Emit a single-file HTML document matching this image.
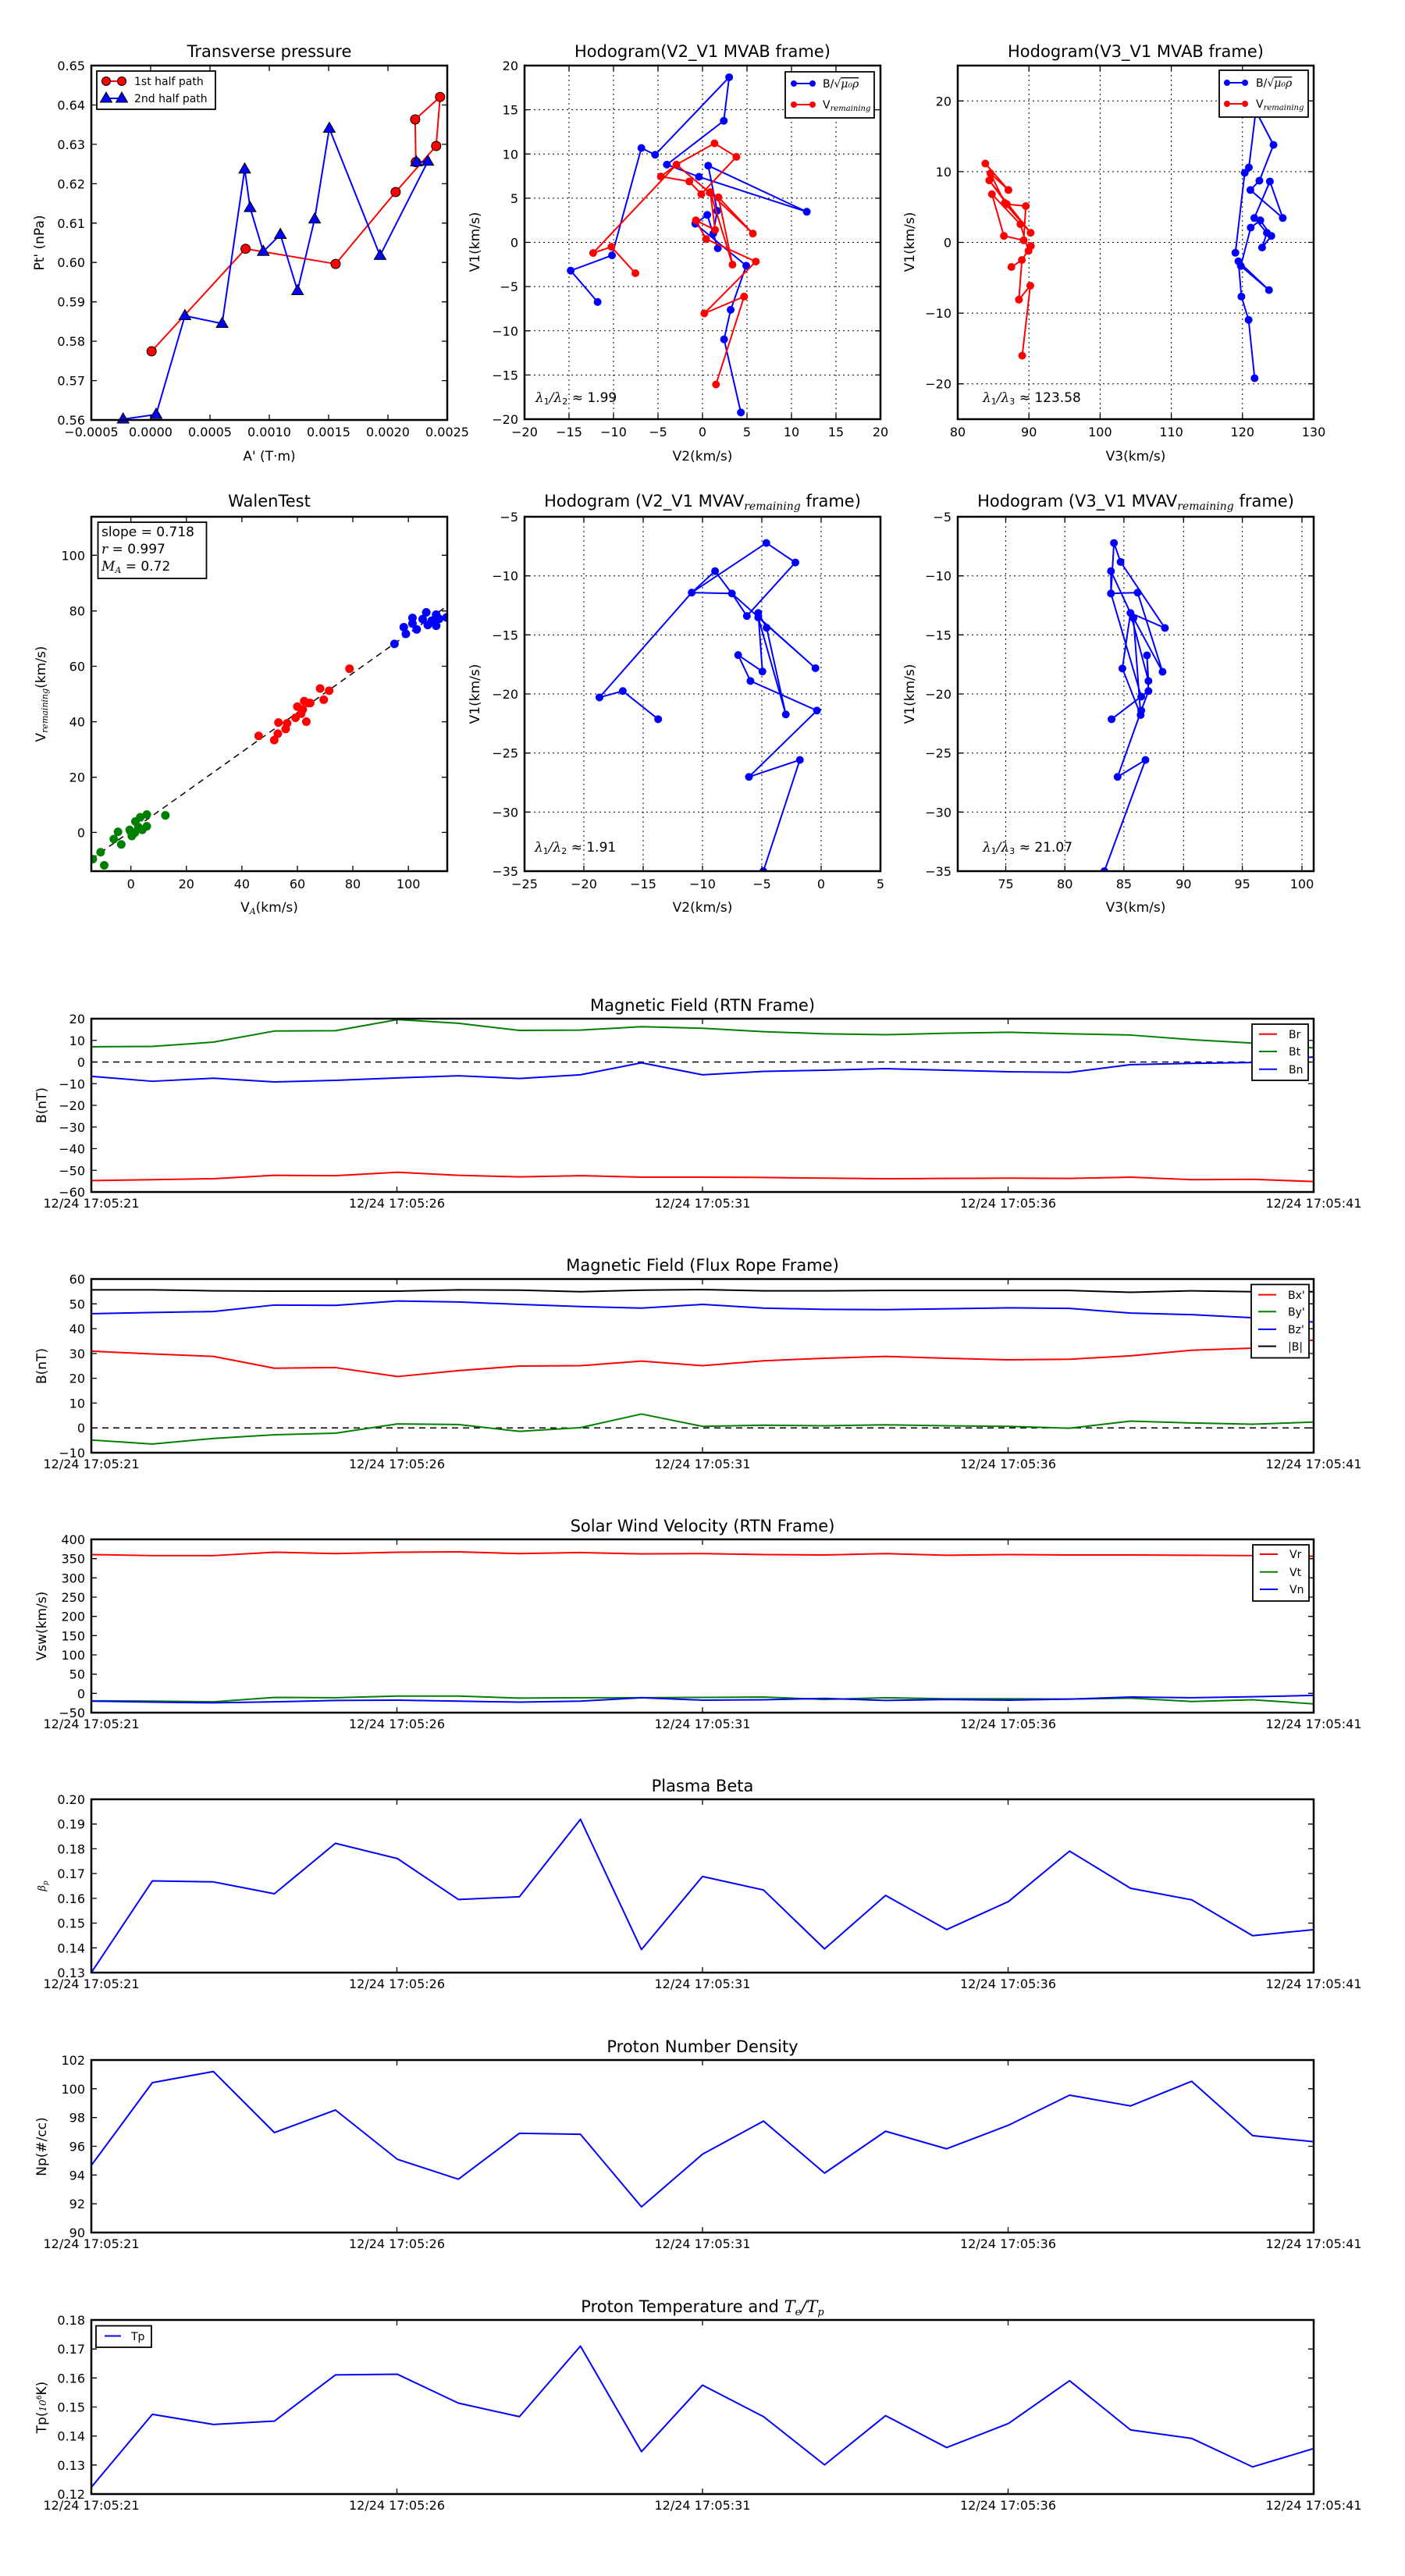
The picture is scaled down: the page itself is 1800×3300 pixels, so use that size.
<!DOCTYPE html>
<html><head><meta charset="utf-8"><style>
html,body{margin:0;padding:0;background:#fff}
svg{display:block}
text{font-family:"DejaVu Sans","Liberation Sans",sans-serif;fill:#000}
.t{font-size:16px}
.lab{font-size:17px}
.ttl{font-size:21px}
.lg{font-size:14px}
.fr{fill:none;stroke:#000;stroke-width:2.5}
.tk{fill:none;stroke:#000;stroke-width:1.3}
.gr{stroke:#000;stroke-width:1;stroke-dasharray:2,4;fill:none}
.ln{fill:none;stroke-width:2;vector-effect:non-scaling-stroke;stroke-linejoin:round}
.dt{fill:none;stroke-width:10;stroke-linecap:round;vector-effect:non-scaling-stroke}
.ds{fill:none;stroke:#000;stroke-width:1.5;stroke-dasharray:8,6}
.m{font-family:"DejaVu Serif","Liberation Serif",serif;font-style:italic}
</style></head><body>
<svg width="1800" height="3300" viewBox="0 0 1800 3300" xmlns="http://www.w3.org/2000/svg">
<defs><path id="tri" d="M0,-8 L7.5,5 L-7.5,5Z" fill="#0000ff" stroke="#000" stroke-width="1"/></defs>

<!-- ============ Transverse pressure ============ -->
<text class="ttl" x="345" y="73" text-anchor="middle">Transverse pressure</text>
<polyline points="194.2,450 314.6,318.7 430,338.1 506.9,246 558.8,187 563.8,124.2 531.9,153 532.7,207.6" fill="none" stroke="#ff0000" stroke-width="2"/>
<g fill="#ff0000" stroke="#000" stroke-width="1">
<circle cx="194.2" cy="450" r="6"/><circle cx="314.6" cy="318.7" r="6"/><circle cx="430" cy="338.1" r="6"/><circle cx="506.9" cy="246" r="6"/><circle cx="558.8" cy="187" r="6"/><circle cx="563.8" cy="124.2" r="6"/><circle cx="531.9" cy="153" r="6"/><circle cx="532.7" cy="207.6" r="6"/>
</g>
<polyline points="157.7,537 200,531 236.9,404.5 284.6,414.5 313.5,216.7 320.4,266.1 337.3,322.3 359.2,300.5 381.2,372.5 403.1,280.7 421.9,164.5 486.9,327.4 548.1,206.8 533.5,207.6" fill="none" stroke="#0000ff" stroke-width="2"/>
<use href="#tri" x="157.7" y="537"/><use href="#tri" x="200" y="531"/><use href="#tri" x="236.9" y="404.5"/><use href="#tri" x="284.6" y="414.5"/><use href="#tri" x="313.5" y="216.7"/><use href="#tri" x="320.4" y="266.1"/><use href="#tri" x="337.3" y="322.3"/><use href="#tri" x="359.2" y="300.5"/><use href="#tri" x="381.2" y="372.5"/><use href="#tri" x="403.1" y="280.7"/><use href="#tri" x="421.9" y="164.5"/><use href="#tri" x="486.9" y="327.4"/><use href="#tri" x="548.1" y="206.8"/><use href="#tri" x="533.5" y="207.6"/>
<rect x="124" y="91" width="152" height="49" fill="#fff" stroke="#000" stroke-width="1.8"/>
<line x1="136" y1="104" x2="156" y2="104" stroke="#ff0000" stroke-width="2"/><circle cx="136" cy="104" r="5.5" fill="#f00" stroke="#000"/><circle cx="156" cy="104" r="5.5" fill="#f00" stroke="#000"/>
<line x1="136" y1="126" x2="156" y2="126" stroke="#0000ff" stroke-width="2"/><use href="#tri" x="136" y="126"/><use href="#tri" x="156" y="126"/>
<text class="lg" x="172" y="109">1st half path</text><text class="lg" x="172" y="131">2nd half path</text>
<rect class="fr" x="117" y="84" width="456" height="454"/>
<path class="tk" d="M117,487.6h7M117,437.1h7M117,386.7h7M117,336.2h7M117,285.8h7M117,235.4h7M117,184.9h7M117,134.5h7M573,487.6h-7M573,437.1h-7M573,386.7h-7M573,336.2h-7M573,285.8h-7M573,235.4h-7M573,184.9h-7M573,134.5h-7M193,538v-7M269,538v-7M345,538v-7M421,538v-7M497,538v-7M193,84v7M269,84v7M345,84v7M421,84v7M497,84v7"/>
<g class="t" text-anchor="end"><text x="109" y="544">0.56</text><text x="109" y="493.6">0.57</text><text x="109" y="443.1">0.58</text><text x="109" y="392.7">0.59</text><text x="109" y="342.2">0.60</text><text x="109" y="291.8">0.61</text><text x="109" y="241.4">0.62</text><text x="109" y="190.9">0.63</text><text x="109" y="140.5">0.64</text><text x="109" y="90">0.65</text></g>
<g class="t" text-anchor="middle"><text x="117" y="559">−0.0005</text><text x="193" y="559">0.0000</text><text x="269" y="559">0.0005</text><text x="345" y="559">0.0010</text><text x="421" y="559">0.0015</text><text x="497" y="559">0.0020</text><text x="573" y="559">0.0025</text></g>
<text class="lab" x="345" y="590" text-anchor="middle">A' (T·m)</text>
<text class="lab" x="56" y="311" text-anchor="middle" transform="rotate(-90 56 311)">Pt' (nPa)</text>

<!-- ============ Hodogram V2_V1 MVAB ============ -->
<text class="ttl" x="900" y="73" text-anchor="middle">Hodogram(V2_V1 MVAB frame)</text>
<path class="gr" d="M729,84V537M786,84V537M843,84V537M900,84V537M957,84V537M1014,84V537M1071,84V537M672,140.6H1128M672,197.3H1128M672,253.9H1128M672,310.5H1128M672,367.1H1128M672,423.8H1128M672,480.4H1128"/>
<svg x="672" y="84" width="456" height="453" viewBox="190 130 1188 1364" preserveAspectRatio="none">
<polyline class="ln" stroke="#0000ff" points="434,1042 344,921 482,862 580,448 626,474 873,175 855,343 665,512 772,559 1132,694 803,516 833,690 820,778 835,835 800,706 760,740 930,902 878,1072 856,1186 912,1468"/>
<path class="dt" stroke="#0000ff" d="M434 1042l0 0M344 921l0 0M482 862l0 0M580 448l0 0M626 474l0 0M873 175l0 0M855 343l0 0M665 512l0 0M772 559l0 0M1132 694l0 0M803 516l0 0M833 690l0 0M820 778l0 0M835 835l0 0M800 706l0 0M760 740l0 0M930 902l0 0M878 1072l0 0M856 1186l0 0M912 1468l0 0"/>
<polyline class="ln" stroke="#ff0000" points="560,931 480,829 419,853 697,512 824,430 897,482 780,626 740,577 645,558 697,512 808,620 952,778 837,638 884,898 810,618 826,764 762,727 796,799 962,886 790,1086 923,1021 829,1360"/>
<path class="dt" stroke="#ff0000" d="M560 931l0 0M480 829l0 0M419 853l0 0M697 512l0 0M824 430l0 0M897 482l0 0M780 626l0 0M740 577l0 0M645 558l0 0M808 620l0 0M952 778l0 0M837 638l0 0M884 898l0 0M810 618l0 0M826 764l0 0M762 727l0 0M796 799l0 0M962 886l0 0M790 1086l0 0M923 1021l0 0M829 1360l0 0"/>
</svg>
<rect x="1006" y="92" width="114" height="59" fill="#fff" stroke="#000" stroke-width="1.8"/>
<line x1="1017" y1="107" x2="1041" y2="107" stroke="#00f" stroke-width="2"/><circle cx="1017" cy="107" r="4" fill="#00f"/><circle cx="1041" cy="107" r="4" fill="#00f"/>
<line x1="1017" y1="134" x2="1041" y2="134" stroke="#f00" stroke-width="2"/><circle cx="1017" cy="134" r="4" fill="#f00"/><circle cx="1041" cy="134" r="4" fill="#f00"/>
<text class="lg" x="1054" y="112">B/√<tspan class="m" text-decoration="overline">μ₀ρ</tspan></text>
<text class="lg" x="1054" y="139">V<tspan class="m" font-size="10" dy="3">remaining</tspan></text>
<text class="lab" x="686" y="515"><tspan class="m">λ</tspan><tspan font-size="11" dy="3">1</tspan><tspan class="m" dy="-3">/λ</tspan><tspan font-size="11" dy="3">2</tspan><tspan dy="-3"> ≈ 1.99</tspan></text>
<rect class="fr" x="672" y="84" width="456" height="453"/>
<path class="tk" d="M672,140.6h7M672,197.3h7M672,253.9h7M672,310.5h7M672,367.1h7M672,423.8h7M672,480.4h7M1128,140.6h-7M1128,197.3h-7M1128,253.9h-7M1128,310.5h-7M1128,367.1h-7M1128,423.8h-7M1128,480.4h-7M729,537v-7M786,537v-7M843,537v-7M900,537v-7M957,537v-7M1014,537v-7M1071,537v-7M729,84v7M786,84v7M843,84v7M900,84v7M957,84v7M1014,84v7M1071,84v7"/>
<g class="t" text-anchor="end"><text x="664" y="90">20</text><text x="664" y="146.6">15</text><text x="664" y="203.3">10</text><text x="664" y="259.9">5</text><text x="664" y="316.5">0</text><text x="664" y="373.1">−5</text><text x="664" y="429.8">−10</text><text x="664" y="486.4">−15</text><text x="664" y="543">−20</text></g>
<g class="t" text-anchor="middle"><text x="672" y="559">−20</text><text x="729" y="559">−15</text><text x="786" y="559">−10</text><text x="843" y="559">−5</text><text x="900" y="559">0</text><text x="957" y="559">5</text><text x="1014" y="559">10</text><text x="1071" y="559">15</text><text x="1128" y="559">20</text></g>
<text class="lab" x="900" y="590" text-anchor="middle">V2(km/s)</text>
<text class="lab" x="614" y="310" text-anchor="middle" transform="rotate(-90 614 310)">V1(km/s)</text>

<!-- ============ Hodogram V3_V1 MVAB ============ -->
<text class="ttl" x="1455" y="73" text-anchor="middle">Hodogram(V3_V1 MVAB frame)</text>
<path class="gr" d="M1318.2,84V537M1409.4,84V537M1500.6,84V537M1591.8,84V537M1227,129.3H1683M1227,219.9H1683M1227,310.5H1683M1227,401.1H1683M1227,491.7H1683"/>
<svg x="1227" y="84" width="456" height="453" viewBox="76 130 1187 1364" preserveAspectRatio="none">
<polyline class="ln" stroke="#0000ff" points="1066,1336 1046,1111 1022,1021 1012,885 1114,996 1020,903 1053,755 1085,727 1122,787 1091,832 1107,775 1065,718 1117,577 1160,718 1052,610 1082,574 1129,436 1070,305 1047,523 1033,544 1002,852"/>
<path class="dt" stroke="#0000ff" d="M1066 1336l0 0M1046 1111l0 0M1022 1021l0 0M1012 885l0 0M1114 996l0 0M1020 903l0 0M1053 755l0 0M1085 727l0 0M1122 787l0 0M1091 832l0 0M1107 775l0 0M1065 718l0 0M1117 577l0 0M1160 718l0 0M1052 610l0 0M1082 574l0 0M1129 436l0 0M1070 305l0 0M1047 523l0 0M1033 544l0 0M1002 852l0 0"/>
<polyline class="ln" stroke="#ff0000" points="168,508 245,610 185,546 233,660 319,775 181,573 240,665 303,672 296,804 230,787 190,626 285,742 312,845 320,826 290,880 255,907 290,880 280,1033 318,979 291,1249"/>
<path class="dt" stroke="#ff0000" d="M168 508l0 0M245 610l0 0M185 546l0 0M233 660l0 0M319 775l0 0M181 573l0 0M240 665l0 0M303 672l0 0M296 804l0 0M230 787l0 0M190 626l0 0M285 742l0 0M312 845l0 0M320 826l0 0M290 880l0 0M255 907l0 0M280 1033l0 0M318 979l0 0M291 1249l0 0"/>
</svg>
<rect x="1562" y="90" width="114" height="60" fill="#fff" stroke="#000" stroke-width="1.8"/>
<line x1="1572" y1="106" x2="1595" y2="106" stroke="#00f" stroke-width="2"/><circle cx="1572" cy="106" r="4" fill="#00f"/><circle cx="1595" cy="106" r="4" fill="#00f"/>
<line x1="1572" y1="133" x2="1595" y2="133" stroke="#f00" stroke-width="2"/><circle cx="1572" cy="133" r="4" fill="#f00"/><circle cx="1595" cy="133" r="4" fill="#f00"/>
<text class="lg" x="1609" y="111">B/√<tspan class="m" text-decoration="overline">μ₀ρ</tspan></text>
<text class="lg" x="1609" y="138">V<tspan class="m" font-size="10" dy="3">remaining</tspan></text>
<text class="lab" x="1259" y="515"><tspan class="m">λ</tspan><tspan font-size="11" dy="3">1</tspan><tspan class="m" dy="-3">/λ</tspan><tspan font-size="11" dy="3">3</tspan><tspan dy="-3"> ≈ 123.58</tspan></text>
<rect class="fr" x="1227" y="84" width="456" height="453"/>
<path class="tk" d="M1227,129.3h7M1227,219.9h7M1227,310.5h7M1227,401.1h7M1227,491.7h7M1683,129.3h-7M1683,219.9h-7M1683,310.5h-7M1683,401.1h-7M1683,491.7h-7M1318.2,537v-7M1409.4,537v-7M1500.6,537v-7M1591.8,537v-7M1318.2,84v7M1409.4,84v7M1500.6,84v7M1591.8,84v7"/>
<g class="t" text-anchor="end"><text x="1219" y="135.3">20</text><text x="1219" y="225.9">10</text><text x="1219" y="316.5">0</text><text x="1219" y="407.1">−10</text><text x="1219" y="497.7">−20</text></g>
<g class="t" text-anchor="middle"><text x="1227" y="559">80</text><text x="1318.2" y="559">90</text><text x="1409.4" y="559">100</text><text x="1500.6" y="559">110</text><text x="1591.8" y="559">120</text><text x="1683" y="559">130</text></g>
<text class="lab" x="1455" y="590" text-anchor="middle">V3(km/s)</text>
<text class="lab" x="1171" y="310" text-anchor="middle" transform="rotate(-90 1171 310)">V1(km/s)</text>

<!-- ============ WalenTest ============ -->
<text class="ttl" x="345" y="649" text-anchor="middle">WalenTest</text>
<line class="ds" x1="117" y1="1100.6" x2="573" y2="776.3"/>
<svg x="117" y="662" width="456" height="454" viewBox="305 117 1187 1271" preserveAspectRatio="none">
<path class="dt" stroke="#008000" style="stroke-width:11" d="M310 1345l0 0M336 1320l0 0M348 1367l0 0M380 1273l0 0M394 1247l0 0M405 1292l0 0M433 1240l0 0M440 1262l0 0M450 1250l0 0M452 1210l0 0M462 1230l0 0M468 1195l0 0M475 1240l0 0M490 1227l0 0M490 1185l0 0M552 1188l0 0"/>
<path class="dt" stroke="#ff0000" style="stroke-width:11" d="M863 903l0 0M915 918l0 0M927 895l0 0M929 855l0 0M953 878l0 0M958 858l0 0M986 838l0 0M992 798l0 0M1005 823l0 0M1010 808l0 0M1015 778l0 0M1022 852l0 0M1030 785l0 0M1035 785l0 0M1068 733l0 0M1080 773l0 0M1098 741l0 0M1166 662l0 0"/>
<path class="dt" stroke="#0000ff" style="stroke-width:11" d="M1316 573l0 0M1347 513l0 0M1354 537l0 0M1376 480l0 0M1376 500l0 0M1390 521l0 0M1410 484l0 0M1422 460l0 0M1427 505l0 0M1440 490l0 0M1455 468l0 0M1455 508l0 0M1465 483l0 0M1490 478l0 0"/>
</svg>
<rect x="125.5" y="669" width="139" height="72" fill="#fff" stroke="#000" stroke-width="1.8"/>
<text class="lab" x="130" y="687">slope = 0.718</text>
<text class="lab" x="130" y="709"><tspan class="m">r</tspan> = 0.997</text>
<text class="lab" x="130" y="731"><tspan class="m">M</tspan><tspan class="m" font-size="11" dy="3">A</tspan><tspan dy="-3"> = 0.72</tspan></text>
<rect class="fr" x="117" y="662" width="456" height="454"/>
<path class="tk" d="M117,1066.4h7M117,995.7h7M117,924.6h7M117,853.5h7M117,782.7h7M117,711.3h7M573,1066.4h-7M573,995.7h-7M573,924.6h-7M573,853.5h-7M573,782.7h-7M573,711.3h-7M167.7,1116v-7M238.8,1116v-7M309.9,1116v-7M381,1116v-7M452,1116v-7M523.2,1116v-7M167.7,662v7M238.8,662v7M309.9,662v7M381,662v7M452,662v7M523.2,662v7"/>
<g class="t" text-anchor="end"><text x="109" y="1072.4">0</text><text x="109" y="1001.7">20</text><text x="109" y="930.6">40</text><text x="109" y="859.5">60</text><text x="109" y="788.7">80</text><text x="109" y="717.3">100</text></g>
<g class="t" text-anchor="middle"><text x="167.7" y="1138">0</text><text x="238.8" y="1138">20</text><text x="309.9" y="1138">40</text><text x="381" y="1138">60</text><text x="452" y="1138">80</text><text x="523.2" y="1138">100</text></g>
<text class="lab" x="345" y="1168" text-anchor="middle">V<tspan class="m" font-size="11" dy="3">A</tspan><tspan dy="-3">(km/s)</tspan></text>
<text class="lab" x="58" y="889" text-anchor="middle" transform="rotate(-90 58 889)">V<tspan class="m" font-size="11" dy="3">remaining</tspan><tspan dy="-3">(km/s)</tspan></text>

<!-- ============ Hodogram V2_V1 MVAV ============ -->
<text class="ttl" x="900" y="649" text-anchor="middle">Hodogram (V2_V1 MVAV<tspan class="m" font-size="14" dy="4">remaining</tspan><tspan dy="-4"> frame)</tspan></text>
<path class="gr" d="M748,662V1116M824,662V1116M900,662V1116M976,662V1116M1052,662V1116M672,737.7H1128M672,813.3H1128M672,889H1128M672,964.7H1128M672,1040.3H1128"/>
<svg x="672" y="662" width="456" height="454" viewBox="190 117 1188 1271" preserveAspectRatio="none">
<polyline class="ln" stroke="#0000ff" points="636,843 518,742 440,765 748,389 997,211 1094,281 932,473 882,392 826,312 748,389 882,392 1161,660 970,478 1062,826 998,515 970,462 984,672 903,613 944,706 1166,812 939,1050 1109,989 987,1388"/>
<path class="dt" stroke="#0000ff" d="M636 843l0 0M518 742l0 0M440 765l0 0M748 389l0 0M997 211l0 0M1094 281l0 0M932 473l0 0M882 392l0 0M826 312l0 0M1161 660l0 0M970 478l0 0M1062 826l0 0M998 515l0 0M970 462l0 0M984 672l0 0M903 613l0 0M944 706l0 0M1166 812l0 0M939 1050l0 0M1109 989l0 0M987 1388l0 0"/>
</svg>
<text class="lab" x="685" y="1091"><tspan class="m">λ</tspan><tspan font-size="11" dy="3">1</tspan><tspan class="m" dy="-3">/λ</tspan><tspan font-size="11" dy="3">2</tspan><tspan dy="-3"> ≈ 1.91</tspan></text>
<rect class="fr" x="672" y="662" width="456" height="454"/>
<path class="tk" d="M672,737.7h7M672,813.3h7M672,889h7M672,964.7h7M672,1040.3h7M1128,737.7h-7M1128,813.3h-7M1128,889h-7M1128,964.7h-7M1128,1040.3h-7M748,1116v-7M824,1116v-7M900,1116v-7M976,1116v-7M1052,1116v-7M748,662v7M824,662v7M900,662v7M976,662v7M1052,662v7"/>
<g class="t" text-anchor="end"><text x="664" y="668">−5</text><text x="664" y="743.7">−10</text><text x="664" y="819.3">−15</text><text x="664" y="895">−20</text><text x="664" y="970.7">−25</text><text x="664" y="1046.3">−30</text><text x="664" y="1122">−35</text></g>
<g class="t" text-anchor="middle"><text x="672" y="1138">−25</text><text x="748" y="1138">−20</text><text x="824" y="1138">−15</text><text x="900" y="1138">−10</text><text x="976" y="1138">−5</text><text x="1052" y="1138">0</text><text x="1128" y="1138">5</text></g>
<text class="lab" x="900" y="1168" text-anchor="middle">V2(km/s)</text>
<text class="lab" x="614" y="889" text-anchor="middle" transform="rotate(-90 614 889)">V1(km/s)</text>

<!-- ============ Hodogram V3_V1 MVAV ============ -->
<text class="ttl" x="1455" y="649" text-anchor="middle">Hodogram (V3_V1 MVAV<tspan class="m" font-size="14" dy="4">remaining</tspan><tspan dy="-4"> frame)</tspan></text>
<path class="gr" d="M1288.5,662V1116M1364.2,662V1116M1439.9,662V1116M1516.3,662V1116M1591.6,662V1116M1668,662V1116M1227,737.7H1683M1227,813.3H1683M1227,889H1683M1227,964.7H1683M1227,1040.3H1683"/>
<svg x="1227" y="662" width="456" height="454" viewBox="76 117 1187 1271" preserveAspectRatio="none">
<polyline class="ln" stroke="#0000ff" points="589,843 712,742 688,762 587,392 597,211 619,279 767,516 652,462 587,312 587,392 676,389 759,673 662,480 686,828 625,661 652,462 712,706 707,614 712,742 688,812 609,1050 702,989 565,1388"/>
<path class="dt" stroke="#0000ff" d="M589 843l0 0M712 742l0 0M688 762l0 0M587 392l0 0M597 211l0 0M619 279l0 0M767 516l0 0M652 462l0 0M587 312l0 0M676 389l0 0M759 673l0 0M662 480l0 0M686 828l0 0M625 661l0 0M712 706l0 0M707 614l0 0M688 812l0 0M609 1050l0 0M702 989l0 0M565 1388l0 0"/>
</svg>
<text class="lab" x="1259" y="1091"><tspan class="m">λ</tspan><tspan font-size="11" dy="3">1</tspan><tspan class="m" dy="-3">/λ</tspan><tspan font-size="11" dy="3">3</tspan><tspan dy="-3"> ≈ 21.07</tspan></text>
<rect class="fr" x="1227" y="662" width="456" height="454"/>
<path class="tk" d="M1227,737.7h7M1227,813.3h7M1227,889h7M1227,964.7h7M1227,1040.3h7M1683,737.7h-7M1683,813.3h-7M1683,889h-7M1683,964.7h-7M1683,1040.3h-7M1288.5,1116v-7M1364.2,1116v-7M1439.9,1116v-7M1516.3,1116v-7M1591.6,1116v-7M1668,1116v-7M1288.5,662v7M1364.2,662v7M1439.9,662v7M1516.3,662v7M1591.6,662v7M1668,662v7"/>
<g class="t" text-anchor="end"><text x="1219" y="668">−5</text><text x="1219" y="743.7">−10</text><text x="1219" y="819.3">−15</text><text x="1219" y="895">−20</text><text x="1219" y="970.7">−25</text><text x="1219" y="1046.3">−30</text><text x="1219" y="1122">−35</text></g>
<g class="t" text-anchor="middle"><text x="1288.5" y="1138">75</text><text x="1364.2" y="1138">80</text><text x="1439.9" y="1138">85</text><text x="1516.3" y="1138">90</text><text x="1591.6" y="1138">95</text><text x="1668" y="1138">100</text></g>
<text class="lab" x="1455" y="1168" text-anchor="middle">V3(km/s)</text>
<text class="lab" x="1171" y="889" text-anchor="middle" transform="rotate(-90 1171 889)">V1(km/s)</text>

<!-- ============ Magnetic Field RTN ============ -->
<text class="ttl" x="900" y="1295" text-anchor="middle">Magnetic Field (RTN Frame)</text>
<line class="ds" x1="117" y1="1360.5" x2="1683" y2="1360.5"/>
<svg x="117" y="1305" width="1566" height="222" viewBox="103 113 1362 562" preserveAspectRatio="none">
<polyline class="ln" stroke="#ff0000" points="103,638 171,635 239,632 307,621 375,622 444,611 512,621 580,626 648,622 716,627 784,627 852,628 920,630 988,632 1056,631 1125,630 1193,631 1261,627 1329,635 1397,634 1465,641"/>
<polyline class="ln" stroke="#008000" points="103,204 171,203 239,189 307,153 375,152 444,116 512,128 580,151 648,150 716,139 784,144 852,155 920,162 988,165 1056,160 1125,157 1193,162 1261,166 1329,181 1397,192 1465,208"/>
<polyline class="ln" stroke="#0000ff" points="103,300 171,316 239,306 307,318 375,313 444,305 512,298 580,307 648,295 716,256 784,295 852,284 920,280 988,275 1056,280 1125,285 1193,287 1261,262 1329,258 1397,255 1465,237"/>
</svg>
<rect x="1604" y="1312" width="72" height="72" fill="#fff" stroke="#000" stroke-width="1.8"/>
<line x1="1613" y1="1324.7" x2="1636" y2="1324.7" stroke="#f00" stroke-width="2"/><line x1="1613" y1="1347" x2="1636" y2="1347" stroke="#008000" stroke-width="2"/><line x1="1613" y1="1369.7" x2="1636" y2="1369.7" stroke="#00f" stroke-width="2"/>
<text class="lg" x="1651" y="1330">Br</text><text class="lg" x="1651" y="1352">Bt</text><text class="lg" x="1651" y="1375">Bn</text>
<rect class="fr" x="117" y="1305" width="1566" height="222"/>
<path class="tk" d="M117,1332.75h7M117,1360.5h7M117,1388.25h7M117,1416h7M117,1443.75h7M117,1471.5h7M117,1499.25h7M1683,1332.75h-7M1683,1360.5h-7M1683,1388.25h-7M1683,1416h-7M1683,1443.75h-7M1683,1471.5h-7M1683,1499.25h-7M508.5,1527v-7M900,1527v-7M1291.5,1527v-7M508.5,1305v7M900,1305v7M1291.5,1305v7"/>
<g class="t" text-anchor="end"><text x="109" y="1311">20</text><text x="109" y="1338.75">10</text><text x="109" y="1366.5">0</text><text x="109" y="1394.25">−10</text><text x="109" y="1422">−20</text><text x="109" y="1449.75">−30</text><text x="109" y="1477.5">−40</text><text x="109" y="1505.25">−50</text><text x="109" y="1533">−60</text></g>
<g class="t" text-anchor="middle"><text x="117" y="1547">12/24 17:05:21</text><text x="508.5" y="1547">12/24 17:05:26</text><text x="900" y="1547">12/24 17:05:31</text><text x="1291.5" y="1547">12/24 17:05:36</text><text x="1683" y="1547">12/24 17:05:41</text></g>
<text class="lab" x="59" y="1416" text-anchor="middle" transform="rotate(-90 59 1416)">B(nT)</text>

<!-- ============ Magnetic Field Flux Rope ============ -->
<text class="ttl" x="900" y="1628" text-anchor="middle">Magnetic Field (Flux Rope Frame)</text>
<line class="ds" x1="117" y1="1829.2" x2="1683" y2="1829.2"/>
<svg x="117" y="1638.5" width="1566" height="222.5" viewBox="103 958 1362 561" preserveAspectRatio="none">
<polyline class="ln" stroke="#ff0000" points="103,1191 171,1200 239,1208 307,1246 375,1244 444,1273 512,1254 580,1239 648,1238 716,1223 784,1238 852,1222 920,1214 988,1208 1056,1214 1125,1219 1193,1217 1261,1206 1329,1188 1397,1181 1465,1155"/>
<polyline class="ln" stroke="#008000" points="103,1478 171,1491 239,1473 307,1461 375,1456 444,1426 512,1428 580,1450 648,1438 716,1394 784,1434 852,1430 920,1432 988,1429 1056,1432 1125,1434 1193,1440 1261,1417 1329,1423 1397,1427 1465,1420"/>
<polyline class="ln" stroke="#0000ff" points="103,1070 171,1066 239,1063 307,1042 375,1043 444,1029 512,1032 580,1040 648,1047 716,1052 784,1040 852,1052 920,1056 988,1057 1056,1054 1125,1051 1193,1053 1261,1068 1329,1073 1397,1083 1465,1097"/>
<polyline class="ln" stroke="#000000" points="103,993 171,993 239,996 307,997 375,997 444,997 512,993 580,994 648,999 716,994 784,992 852,996 920,996 988,995 1056,995 1125,995 1193,995 1261,1001 1329,996 1397,999 1465,999"/>
</svg>
<rect x="1603" y="1645.5" width="74" height="94" fill="#fff" stroke="#000" stroke-width="1.8"/>
<line x1="1612" y1="1658.6" x2="1635" y2="1658.6" stroke="#f00" stroke-width="2"/><line x1="1612" y1="1680.3" x2="1635" y2="1680.3" stroke="#008000" stroke-width="2"/><line x1="1612" y1="1702.9" x2="1635" y2="1702.9" stroke="#00f" stroke-width="2"/><line x1="1612" y1="1724.6" x2="1635" y2="1724.6" stroke="#000" stroke-width="2"/>
<text class="lg" x="1650" y="1664">Bx'</text><text class="lg" x="1650" y="1685.5">By'</text><text class="lg" x="1650" y="1708">Bz'</text><text class="lg" x="1650" y="1730">|B|</text>
<rect class="fr" x="117" y="1638.5" width="1566" height="222.5"/>
<path class="tk" d="M117,1670.3h7M117,1702.1h7M117,1733.9h7M117,1765.6h7M117,1797.4h7M117,1829.2h7M1683,1670.3h-7M1683,1702.1h-7M1683,1733.9h-7M1683,1765.6h-7M1683,1797.4h-7M1683,1829.2h-7M508.5,1861v-7M900,1861v-7M1291.5,1861v-7M508.5,1638.5v7M900,1638.5v7M1291.5,1638.5v7"/>
<g class="t" text-anchor="end"><text x="109" y="1644.5">60</text><text x="109" y="1676.3">50</text><text x="109" y="1708.1">40</text><text x="109" y="1739.9">30</text><text x="109" y="1771.6">20</text><text x="109" y="1803.4">10</text><text x="109" y="1835.2">0</text><text x="109" y="1867">−10</text></g>
<g class="t" text-anchor="middle"><text x="117" y="1881">12/24 17:05:21</text><text x="508.5" y="1881">12/24 17:05:26</text><text x="900" y="1881">12/24 17:05:31</text><text x="1291.5" y="1881">12/24 17:05:36</text><text x="1683" y="1881">12/24 17:05:41</text></g>
<text class="lab" x="59" y="1750" text-anchor="middle" transform="rotate(-90 59 1750)">B(nT)</text>

<!-- ============ Solar Wind Velocity ============ -->
<text class="ttl" x="900" y="1962" text-anchor="middle">Solar Wind Velocity (RTN Frame)</text>
<svg x="117" y="1972" width="1566" height="222" viewBox="103 73 1362 512" preserveAspectRatio="none">
<polyline class="ln" stroke="#ff0000" points="103,118 171,121 239,121 307,111 375,115 444,111 512,110 580,115 648,112 716,116 784,115 852,118 920,119 988,115 1056,120 1125,118 1193,119 1261,119 1329,120 1397,121 1465,123"/>
<polyline class="ln" stroke="#008000" points="103,550 171,551 239,553 307,540 375,541 444,536 512,536 580,542 648,541 716,541 784,540 852,539 920,546 988,541 1056,544 1125,544 1193,545 1261,542 1329,552 1397,547 1465,559"/>
<polyline class="ln" stroke="#0000ff" points="103,551 171,554 239,556 307,553 375,549 444,548 512,551 580,554 648,551 716,541 784,548 852,547 920,543 988,549 1056,546 1125,548 1193,545 1261,539 1329,541 1397,538 1465,534"/>
</svg>
<rect x="1605" y="1979" width="72" height="72" fill="#fff" stroke="#000" stroke-width="1.8"/>
<line x1="1614" y1="1991" x2="1637" y2="1991" stroke="#f00" stroke-width="2"/><line x1="1614" y1="2013.7" x2="1637" y2="2013.7" stroke="#008000" stroke-width="2"/><line x1="1614" y1="2036" x2="1637" y2="2036" stroke="#00f" stroke-width="2"/>
<text class="lg" x="1652" y="1996">Vr</text><text class="lg" x="1652" y="2019">Vt</text><text class="lg" x="1652" y="2041">Vn</text>
<rect class="fr" x="117" y="1972" width="1566" height="222"/>
<path class="tk" d="M117,1996.7h7M117,2021.3h7M117,2046h7M117,2070.7h7M117,2095.3h7M117,2120h7M117,2144.7h7M117,2169.3h7M1683,1996.7h-7M1683,2021.3h-7M1683,2046h-7M1683,2070.7h-7M1683,2095.3h-7M1683,2120h-7M1683,2144.7h-7M1683,2169.3h-7M508.5,2194v-7M900,2194v-7M1291.5,2194v-7M508.5,1972v7M900,1972v7M1291.5,1972v7"/>
<g class="t" text-anchor="end"><text x="109" y="1978">400</text><text x="109" y="2002.7">350</text><text x="109" y="2027.3">300</text><text x="109" y="2052">250</text><text x="109" y="2076.7">200</text><text x="109" y="2101.3">150</text><text x="109" y="2126">100</text><text x="109" y="2150.7">50</text><text x="109" y="2175.3">0</text><text x="109" y="2200">−50</text></g>
<g class="t" text-anchor="middle"><text x="117" y="2214">12/24 17:05:21</text><text x="508.5" y="2214">12/24 17:05:26</text><text x="900" y="2214">12/24 17:05:31</text><text x="1291.5" y="2214">12/24 17:05:36</text><text x="1683" y="2214">12/24 17:05:41</text></g>
<text class="lab" x="59" y="2083" text-anchor="middle" transform="rotate(-90 59 2083)">Vsw(km/s)</text>

<!-- ============ Plasma Beta ============ -->
<text class="ttl" x="900" y="2295" text-anchor="middle">Plasma Beta</text>
<svg x="117" y="2305" width="1566" height="222" viewBox="103 843 1362 512" preserveAspectRatio="none">
<polyline class="ln" stroke="#0000ff" points="103,1355 171,1084 239,1087 307,1122 375,973 444,1018 512,1139 580,1131 648,902 716,1287 784,1071 852,1111 920,1285 988,1127 1056,1228 1125,1145 1193,996 1261,1106 1329,1140 1397,1246 1465,1228"/>
</svg>
<rect class="fr" x="117" y="2305" width="1566" height="222"/>
<path class="tk" d="M117,2336.7h7M117,2368.4h7M117,2400.1h7M117,2431.9h7M117,2463.6h7M117,2495.3h7M1683,2336.7h-7M1683,2368.4h-7M1683,2400.1h-7M1683,2431.9h-7M1683,2463.6h-7M1683,2495.3h-7M508.5,2527v-7M900,2527v-7M1291.5,2527v-7M508.5,2305v7M900,2305v7M1291.5,2305v7"/>
<g class="t" text-anchor="end"><text x="109" y="2311">0.20</text><text x="109" y="2342.7">0.19</text><text x="109" y="2374.4">0.18</text><text x="109" y="2406.1">0.17</text><text x="109" y="2437.9">0.16</text><text x="109" y="2469.6">0.15</text><text x="109" y="2501.3">0.14</text><text x="109" y="2533">0.13</text></g>
<g class="t" text-anchor="middle"><text x="117" y="2547">12/24 17:05:21</text><text x="508.5" y="2547">12/24 17:05:26</text><text x="900" y="2547">12/24 17:05:31</text><text x="1291.5" y="2547">12/24 17:05:36</text><text x="1683" y="2547">12/24 17:05:41</text></g>
<text x="58" y="2416" font-size="13" text-anchor="middle" transform="rotate(-90 58 2416)"><tspan class="m">β</tspan><tspan class="m" font-size="9" dy="3">p</tspan></text>

<!-- ============ Proton Number Density ============ -->
<text class="ttl" x="900" y="2629" text-anchor="middle">Proton Number Density</text>
<svg x="117" y="2639" width="1566" height="221" viewBox="103 43 1362 511" preserveAspectRatio="none">
<polyline class="ln" stroke="#0000ff" points="103,355 171,110 239,77 307,258 375,191 444,337 512,396 580,260 648,263 716,478 784,322 852,224 920,378 988,254 1056,306 1125,236 1193,147 1261,179 1329,106 1397,267 1465,285"/>
</svg>
<rect class="fr" x="117" y="2639" width="1566" height="221"/>
<path class="tk" d="M117,2675.8h7M117,2712.7h7M117,2749.5h7M117,2786.3h7M117,2823.2h7M1683,2675.8h-7M1683,2712.7h-7M1683,2749.5h-7M1683,2786.3h-7M1683,2823.2h-7M508.5,2860v-7M900,2860v-7M1291.5,2860v-7M508.5,2639v7M900,2639v7M1291.5,2639v7"/>
<g class="t" text-anchor="end"><text x="109" y="2645">102</text><text x="109" y="2681.8">100</text><text x="109" y="2718.7">98</text><text x="109" y="2755.5">96</text><text x="109" y="2792.3">94</text><text x="109" y="2829.2">92</text><text x="109" y="2866">90</text></g>
<g class="t" text-anchor="middle"><text x="117" y="2880">12/24 17:05:21</text><text x="508.5" y="2880">12/24 17:05:26</text><text x="900" y="2880">12/24 17:05:31</text><text x="1291.5" y="2880">12/24 17:05:36</text><text x="1683" y="2880">12/24 17:05:41</text></g>
<text class="lab" x="59" y="2750" text-anchor="middle" transform="rotate(-90 59 2750)">Np(#/cc)</text>

<!-- ============ Proton Temperature ============ -->
<text class="ttl" x="900" y="2962" text-anchor="middle">Proton Temperature and <tspan class="m">T</tspan><tspan class="m" font-size="13" dy="4">e</tspan><tspan class="m" dy="-4">/T</tspan><tspan class="m" font-size="13" dy="4">p</tspan></text>
<svg x="117" y="2972" width="1566" height="223" viewBox="103 813 1362 513" preserveAspectRatio="none">
<polyline class="ln" stroke="#0000ff" points="103,1306 171,1091 239,1121 307,1111 375,975 444,973 512,1058 580,1098 648,890 716,1201 784,1005 852,1098 920,1240 988,1095 1056,1189 1125,1118 1193,992 1261,1137 1329,1162 1397,1246 1465,1192"/>
</svg>
<rect x="123" y="2979.5" width="71" height="27.5" fill="#fff" stroke="#000" stroke-width="1.8"/>
<line x1="134" y1="2992.5" x2="155" y2="2992.5" stroke="#00f" stroke-width="2"/>
<text class="lg" x="168" y="2998">Tp</text>
<rect class="fr" x="117" y="2972" width="1566" height="223"/>
<path class="tk" d="M117,3009.2h7M117,3046.3h7M117,3083.5h7M117,3120.7h7M117,3157.8h7M1683,3009.2h-7M1683,3046.3h-7M1683,3083.5h-7M1683,3120.7h-7M1683,3157.8h-7M508.5,3195v-7M900,3195v-7M1291.5,3195v-7M508.5,2972v7M900,2972v7M1291.5,2972v7"/>
<g class="t" text-anchor="end"><text x="109" y="2978">0.18</text><text x="109" y="3015.2">0.17</text><text x="109" y="3052.3">0.16</text><text x="109" y="3089.5">0.15</text><text x="109" y="3126.7">0.14</text><text x="109" y="3163.8">0.13</text><text x="109" y="3201">0.12</text></g>
<g class="t" text-anchor="middle"><text x="117" y="3215">12/24 17:05:21</text><text x="508.5" y="3215">12/24 17:05:26</text><text x="900" y="3215">12/24 17:05:31</text><text x="1291.5" y="3215">12/24 17:05:36</text><text x="1683" y="3215">12/24 17:05:41</text></g>
<text class="lab" x="59" y="3084" text-anchor="middle" transform="rotate(-90 59 3084)">Tp(<tspan class="m" font-size="12">10</tspan><tspan font-size="9" dy="-6">6</tspan><tspan dy="6">K)</tspan></text>
</svg>
</body></html>
